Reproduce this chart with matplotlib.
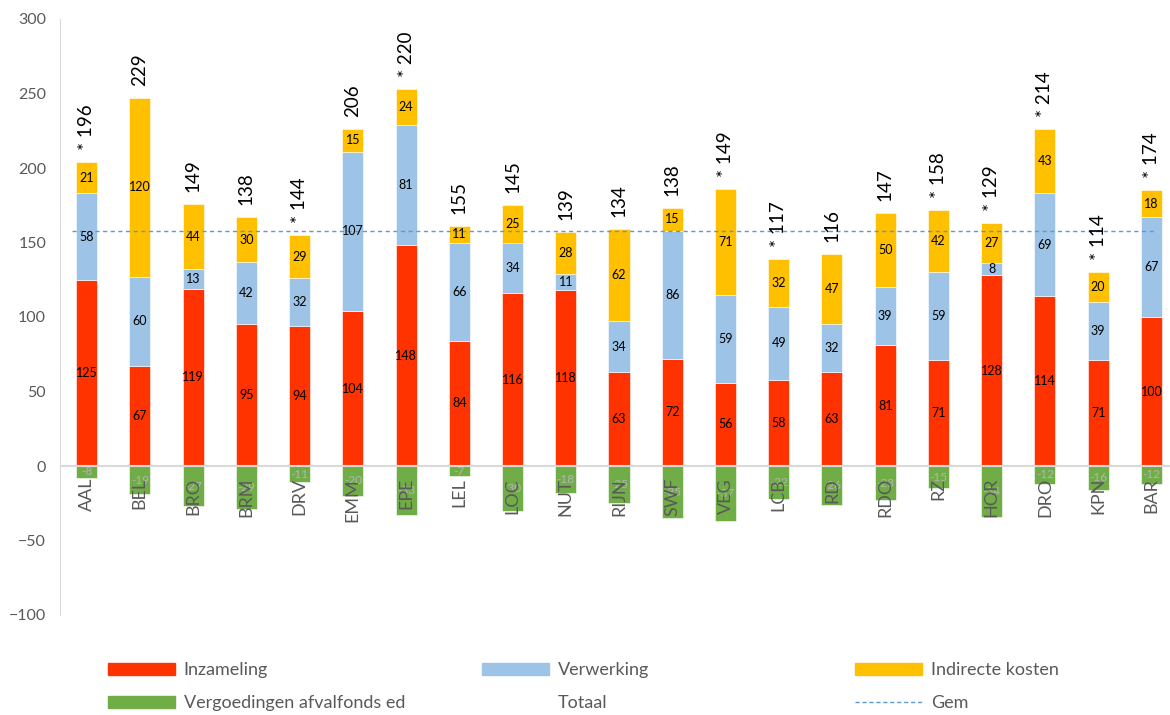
import matplotlib
matplotlib.use("Agg")
import matplotlib.pyplot as plt
from matplotlib.patches import Patch
from matplotlib.lines import Line2D
import numpy as np

plt.rcParams['font.family'] = ['Lato', 'DejaVu Sans']

names = ['AAL', 'BEL', 'BRO', 'BRM', 'DRV', 'EMM', 'EPE', 'LEL', 'LOC', 'NUT', 'RIJN',
         'SWF', 'VEG', 'LCB', 'RD', 'RDO', 'RZ', 'HOR', 'DRO', 'KPN', 'BAR']
inzameling = [125, 67, 119, 95, 94, 104, 148, 84, 116, 118, 63, 72, 56, 58, 63, 81, 71, 128, 114, 71, 100]
verwerking = [58, 60, 13, 42, 32, 107, 81, 66, 34, 11, 34, 86, 59, 49, 32, 39, 59, 8, 69, 39, 67]
indirect = [21, 120, 44, 30, 29, 15, 24, 11, 25, 28, 62, 15, 71, 32, 47, 50, 42, 27, 43, 20, 18]
vergoeding = [-8, -19, -27, -29, -11, -20, -33, -7, -30, -18, -25, -35, -37, -22, -26, -23, -15, -34, -12, -16, -12]
totaal = [196, 229, 149, 138, 144, 206, 220, 155, 145, 139, 134, 138, 149, 117, 116, 147, 158, 129, 214, 114, 174]
sterretje = [1, 0, 0, 0, 1, 0, 1, 0, 0, 0, 0, 0, 1, 1, 0, 0, 1, 1, 1, 1, 1]
gem = 158

c_red = '#FF3300'
c_blue = '#9DC3E6'
c_yellow = '#FFC000'
c_green = '#70AD47'
c_gem = '#5B9BD5'
c_text = '#595959'

fig = plt.figure(figsize=(11.7, 7.15), dpi=100)
ax = fig.add_axes([60 / 1170, 100 / 715, 1118 / 1170, 596 / 715])

x = np.arange(len(names))
w = 0.395
b1 = np.array(inzameling)
b2 = b1 + np.array(verwerking)
top = b2 + np.array(indirect)

ax.bar(x, inzameling, w, color=c_red, edgecolor='white', linewidth=0.4, zorder=2)
ax.bar(x, verwerking, w, bottom=b1, color=c_blue, edgecolor='white', linewidth=0.4, zorder=2)
ax.bar(x, indirect, w, bottom=b2, color=c_yellow, edgecolor='white', linewidth=0.4, zorder=2)
ax.bar(x, vergoeding, w, color=c_green, edgecolor='white', linewidth=0.4, zorder=2)

ax.axhline(0, color='#d9d9d9', lw=1.5, zorder=3)
ax.hlines(gem, -0.27, len(names) - 0.95, colors=c_gem, linestyles=(0, (3, 2.5)), lw=1.0, zorder=4)

for i in range(len(names)):
    ax.text(x[i], inzameling[i] / 2, str(inzameling[i]), ha='center', va='center', fontsize=9, zorder=5)
    ax.text(x[i], b1[i] + verwerking[i] / 2, str(verwerking[i]), ha='center', va='center', fontsize=9, zorder=5)
    ax.text(x[i], b2[i] + indirect[i] / 2, str(indirect[i]), ha='center', va='center', fontsize=9, zorder=5)
    ax.text(x[i], vergoeding[i] / 2, str(vergoeding[i]), ha='center', va='center', fontsize=8.5,
            color='#b4b4b4', zorder=5)
    lab = ('* ' if sterretje[i] else '') + str(totaal[i])
    ax.text(x[i], top[i] + 8, lab, ha='center', va='bottom', rotation=90, fontsize=13.5, zorder=5)
    ax.text(x[i], -8, names[i], ha='center', va='top', rotation=90, fontsize=13, color=c_text, zorder=6)

ax.set_xlim(-0.5, len(names) - 0.5)
ax.set_ylim(-100, 300)
ax.set_yticks(np.arange(-100, 301, 50))
ax.set_xticks([])
ax.tick_params(axis='y', length=0, labelsize=11.5, labelcolor=c_text, pad=10)
for s in ['top', 'right', 'bottom']:
    ax.spines[s].set_visible(False)
ax.spines['left'].set_color('#d9d9d9')

kol1 = [Patch(color=c_red), Patch(color=c_green)]
kol2 = [Patch(color=c_blue), Patch(facecolor='none', edgecolor='none')]
kol3 = [Patch(color=c_yellow), Line2D([0], [0], color=c_gem, ls=(0, (3, 2)), lw=1.0)]
labs1 = ['Inzameling', 'Vergoedingen afvalfonds ed']
labs2 = ['Verwerking', 'Totaal']
labs3 = ['Indirecte kosten', 'Gem']
for handles, labels, xpos in [(kol1, labs1, 108), (kol2, labs2, 482), (kol3, labs3, 855)]:
    fig.legend(handles, labels, loc='upper left', bbox_to_anchor=(xpos / 1170, 1 - 662 / 715),
               frameon=False, fontsize=13, labelcolor=c_text, handlelength=3.7, handleheight=0.65,
               handletextpad=0.5, labelspacing=0.95, borderpad=0, borderaxespad=0)

fig.savefig('out.png', dpi=100)
